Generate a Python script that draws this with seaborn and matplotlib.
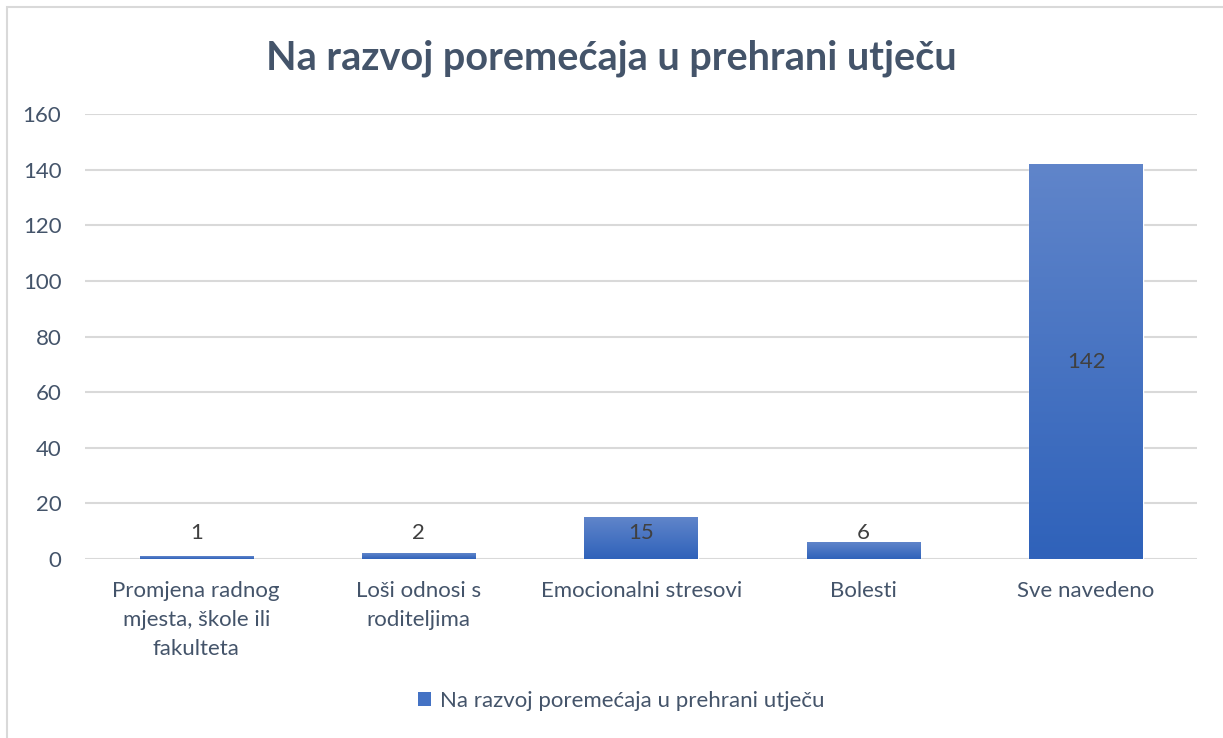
import numpy as np
import pandas as pd
import seaborn as sns
import matplotlib.pyplot as plt
from matplotlib.colors import LinearSegmentedColormap
from matplotlib.patches import Rectangle, Patch

categories = ['Promjena radnog\nmjesta, škole ili\nfakulteta', 'Loši odnosi s\nroditeljima',
              'Emocionalni stresovi', 'Bolesti', 'Sve navedeno']
values = [1, 2, 15, 6, 142]
series_name = 'Na razvoj poremećaja u prehrani utječu'
yticks = [0, 20, 40, 60, 80, 100, 120, 140, 160]

df = pd.DataFrame({'kategorija': categories, 'broj': values})

sns.set_theme(style='white')
plt.rcParams['font.family'] = ['Lato', 'DejaVu Sans']
txt = '#44546A'
grid = '#D9D9D9'

fig = plt.figure(figsize=(12.23, 7.38), dpi=100)
ax = fig.add_axes([0.0695, 0.2425, 0.9095, 0.603])

sns.barplot(data=df, x='kategorija', y='broj', color='#4472C4', width=0.51,
            errorbar=None, ax=ax, zorder=3)

# gradient fill per bar, light at top, dark at bottom
cmap = LinearSegmentedColormap.from_list('g', ['#2F62BA', '#6085CA'])
grad = np.linspace(0, 1, 256).reshape(-1, 1)
for p in ax.patches:
    x0, w, h = p.get_x(), p.get_width(), p.get_height()
    im = ax.imshow(grad, cmap=cmap, aspect='auto', origin='lower',
                   extent=[x0, x0 + w, 0, h], zorder=4)
    im.set_clip_path(p)

ax.set_xlim(-0.5, len(categories) - 0.5)
ax.set_ylim(0, 160)
ax.set_yticks(yticks)
ax.yaxis.grid(True, color=grid, linewidth=1.5, zorder=0)
for s in ax.spines.values():
    s.set_visible(False)
ax.set_xlabel('')
ax.set_ylabel('')
ax.tick_params(axis='both', length=0, labelsize=16, labelcolor=txt)
ax.tick_params(axis='y', pad=17)
ax.tick_params(axis='x', pad=16)
for t in ax.get_xticklabels():
    t.set_linespacing(1.55)

for i, v in enumerate(values):
    ax.text(i, max(v / 2, 9.3), str(v), ha='center', va='center',
            fontsize=16, color='#404040', zorder=6)

fig.text(0.5, 0.921, series_name, ha='center', va='center', fontsize=28.5,
         fontweight='bold', color=txt)

fig.legend(handles=[Patch(facecolor='#4472C4', edgecolor='none', label=series_name)],
           loc='center', bbox_to_anchor=(0.508, 0.05), frameon=False,
           fontsize=16, labelcolor=txt, handlelength=0.6, handleheight=0.6,
           handletextpad=0.4)

fig.patches.append(Rectangle((7 / 1223, -0.1), 1.2, 1.1 - 7 / 738, transform=fig.transFigure,
                             fill=False, edgecolor=grid, linewidth=1.5))

fig.savefig('out.png', dpi=100)
